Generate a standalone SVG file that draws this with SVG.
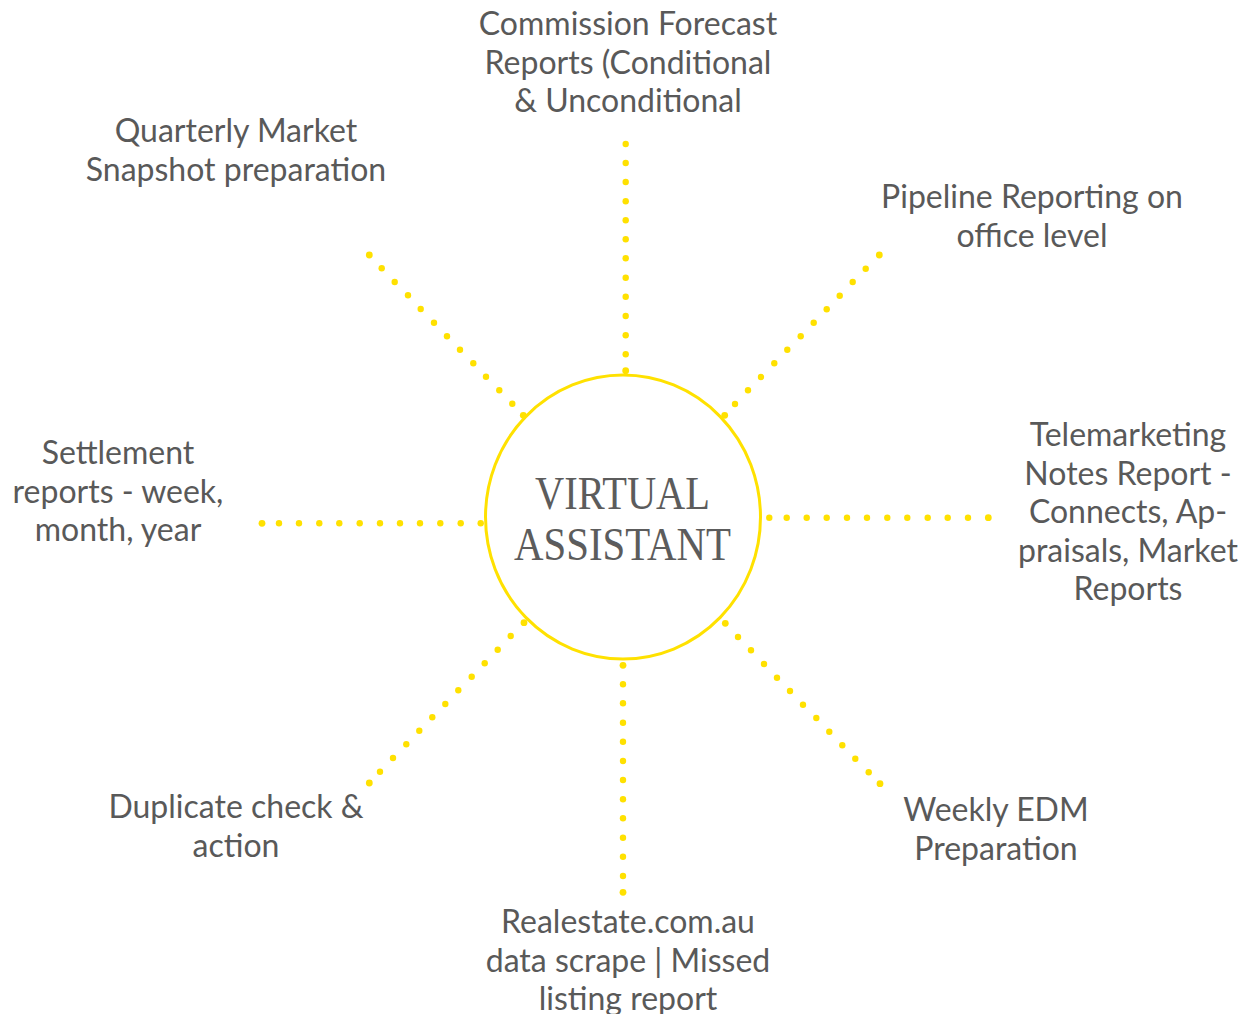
<svg xmlns="http://www.w3.org/2000/svg" width="1252" height="1014" viewBox="0 0 1252 1014">
<style>
.dot{fill:#FFE100}
.lbl{font-family:Lato,"Open Sans","Liberation Sans",sans-serif;font-size:32px;fill:#595959;text-anchor:middle}
.hub{font-family:"Liberation Serif","DejaVu Serif",serif;font-size:47px;fill:#5c5c5c;text-anchor:middle}
</style>
<rect width="1252" height="1014" fill="#ffffff"/>
<g id="connectors">
<g id="c-top"><circle class="dot" cx="625.7" cy="144" r="3.2"/><circle class="dot" cx="625.7" cy="163" r="3.2"/><circle class="dot" cx="625.7" cy="182" r="3.2"/><circle class="dot" cx="625.7" cy="201.3" r="3.2"/><circle class="dot" cx="625.7" cy="220.3" r="3.2"/><circle class="dot" cx="625.7" cy="239.3" r="3.2"/><circle class="dot" cx="625.7" cy="258.3" r="3.2"/><circle class="dot" cx="625.7" cy="277.7" r="3.2"/><circle class="dot" cx="625.7" cy="296.7" r="3.2"/><circle class="dot" cx="625.7" cy="316" r="3.2"/><circle class="dot" cx="625.7" cy="335.3" r="3.2"/><circle class="dot" cx="625.7" cy="354.3" r="3.2"/><circle class="dot" cx="625.7" cy="370.7" r="3.4"/></g>
<g id="c-bottom"><circle class="dot" cx="623" cy="665.3" r="3.4"/><circle class="dot" cx="623" cy="684.3" r="3.2"/><circle class="dot" cx="623" cy="703.3" r="3.2"/><circle class="dot" cx="623" cy="722.7" r="3.2"/><circle class="dot" cx="623" cy="741.7" r="3.2"/><circle class="dot" cx="623" cy="761" r="3.2"/><circle class="dot" cx="623" cy="780" r="3.2"/><circle class="dot" cx="623" cy="799.3" r="3.2"/><circle class="dot" cx="623" cy="818.3" r="3.2"/><circle class="dot" cx="623" cy="837.7" r="3.2"/><circle class="dot" cx="623" cy="856.7" r="3.2"/><circle class="dot" cx="623" cy="876" r="3.2"/><circle class="dot" cx="623" cy="892.3" r="3.4"/></g>
<g id="c-left"><circle class="dot" cx="262" cy="523.3" r="3.4"/><circle class="dot" cx="279" cy="523.3" r="3.2"/><circle class="dot" cx="299" cy="523.3" r="3.2"/><circle class="dot" cx="319.3" cy="523.3" r="3.2"/><circle class="dot" cx="339.3" cy="523.3" r="3.2"/><circle class="dot" cx="359.7" cy="523.3" r="3.2"/><circle class="dot" cx="380" cy="523.3" r="3.2"/><circle class="dot" cx="400" cy="523.3" r="3.2"/><circle class="dot" cx="420" cy="523.3" r="3.2"/><circle class="dot" cx="440.3" cy="523.3" r="3.2"/><circle class="dot" cx="460.7" cy="523.3" r="3.2"/><circle class="dot" cx="480.7" cy="523.3" r="3.2"/></g>
<g id="c-right"><circle class="dot" cx="769.3" cy="517.7" r="3.2"/><circle class="dot" cx="786.7" cy="517.7" r="3.2"/><circle class="dot" cx="806.7" cy="517.7" r="3.2"/><circle class="dot" cx="826.7" cy="517.7" r="3.2"/><circle class="dot" cx="847" cy="517.7" r="3.2"/><circle class="dot" cx="867" cy="517.7" r="3.2"/><circle class="dot" cx="887.3" cy="517.7" r="3.2"/><circle class="dot" cx="907.3" cy="517.7" r="3.2"/><circle class="dot" cx="927.7" cy="517.7" r="3.2"/><circle class="dot" cx="947.7" cy="517.7" r="3.2"/><circle class="dot" cx="968" cy="517.7" r="3.2"/><circle class="dot" cx="988.3" cy="517.7" r="3.4"/></g>
<g id="c-top-left"><circle class="dot" cx="369.3" cy="255" r="3.4"/><circle class="dot" cx="381.7" cy="268.3" r="3.2"/><circle class="dot" cx="394.7" cy="282" r="3.2"/><circle class="dot" cx="408" cy="295.3" r="3.2"/><circle class="dot" cx="420.7" cy="309" r="3.2"/><circle class="dot" cx="434" cy="322.7" r="3.2"/><circle class="dot" cx="447" cy="336.3" r="3.2"/><circle class="dot" cx="460" cy="349.7" r="3.2"/><circle class="dot" cx="473.3" cy="363.3" r="3.2"/><circle class="dot" cx="486" cy="376.7" r="3.2"/><circle class="dot" cx="499.3" cy="390.3" r="3.2"/><circle class="dot" cx="512.3" cy="403.7" r="3.2"/><circle class="dot" cx="523.3" cy="415.3" r="3.4"/></g>
<g id="c-top-right"><circle class="dot" cx="879.3" cy="255" r="3.4"/><circle class="dot" cx="865.7" cy="268.7" r="3.2"/><circle class="dot" cx="852.7" cy="282" r="3.2"/><circle class="dot" cx="839.7" cy="295.7" r="3.2"/><circle class="dot" cx="826.7" cy="309.3" r="3.2"/><circle class="dot" cx="813.7" cy="322.7" r="3.2"/><circle class="dot" cx="800.7" cy="336.3" r="3.2"/><circle class="dot" cx="787.3" cy="349.7" r="3.2"/><circle class="dot" cx="774.3" cy="363.3" r="3.2"/><circle class="dot" cx="761" cy="377" r="3.2"/><circle class="dot" cx="748" cy="390.3" r="3.2"/><circle class="dot" cx="735" cy="404" r="3.2"/><circle class="dot" cx="724.7" cy="415.3" r="3.4"/></g>
<g id="c-bottom-left"><circle class="dot" cx="524" cy="622.7" r="3.4"/><circle class="dot" cx="510.7" cy="636" r="3.2"/><circle class="dot" cx="497.7" cy="649.7" r="3.2"/><circle class="dot" cx="484.7" cy="663.3" r="3.2"/><circle class="dot" cx="471.7" cy="676.7" r="3.2"/><circle class="dot" cx="458.3" cy="690.3" r="3.2"/><circle class="dot" cx="445.3" cy="704" r="3.2"/><circle class="dot" cx="432.3" cy="717.3" r="3.2"/><circle class="dot" cx="419.3" cy="730.7" r="3.2"/><circle class="dot" cx="406.3" cy="744.3" r="3.2"/><circle class="dot" cx="393" cy="758" r="3.2"/><circle class="dot" cx="380" cy="771.7" r="3.2"/><circle class="dot" cx="369.3" cy="783" r="3.4"/></g>
<g id="c-bottom-right"><circle class="dot" cx="725.3" cy="623.3" r="3.4"/><circle class="dot" cx="738" cy="637" r="3.2"/><circle class="dot" cx="751" cy="650.3" r="3.2"/><circle class="dot" cx="764" cy="664" r="3.2"/><circle class="dot" cx="777" cy="677.7" r="3.2"/><circle class="dot" cx="790" cy="691" r="3.2"/><circle class="dot" cx="803" cy="704.7" r="3.2"/><circle class="dot" cx="816.3" cy="718" r="3.2"/><circle class="dot" cx="829.3" cy="731.7" r="3.2"/><circle class="dot" cx="842.3" cy="745.3" r="3.2"/><circle class="dot" cx="855.3" cy="758.7" r="3.2"/><circle class="dot" cx="868.7" cy="772.3" r="3.2"/><circle class="dot" cx="880" cy="783.7" r="3.4"/></g>
</g>
<g id="hub">
<ellipse cx="623" cy="517" rx="137.5" ry="142" fill="#ffffff" stroke="#FFE100" stroke-width="3"/>
<text class="hub" x="622.5" y="509.3" textLength="175" lengthAdjust="spacingAndGlyphs">VIRTUAL</text>
<text class="hub" x="622.5" y="560" textLength="217" lengthAdjust="spacingAndGlyphs">ASSISTANT</text>
</g>
<g id="n-top"><text class="lbl" x="628" y="35">Commission Forecast</text><text class="lbl" x="628" y="73.5">Reports (Conditional</text><text class="lbl" x="628" y="112">&amp; Unconditional</text></g>
<g id="n-top-left"><text class="lbl" x="236" y="142">Quarterly Market</text><text class="lbl" x="236" y="180.5">Snapshot preparation</text></g>
<g id="n-top-right"><text class="lbl" x="1032" y="208">Pipeline Reporting on</text><text class="lbl" x="1032" y="246.5">office level</text></g>
<g id="n-right"><text class="lbl" x="1128" y="446">Telemarketing</text><text class="lbl" x="1128" y="484.5">Notes Report -</text><text class="lbl" x="1128" y="523">Connects, Ap-</text><text class="lbl" x="1128" y="561.5">praisals, Market</text><text class="lbl" x="1128" y="600">Reports</text></g>
<g id="n-left"><text class="lbl" x="118" y="464">Settlement</text><text class="lbl" x="118" y="502.5">reports - week,</text><text class="lbl" x="118" y="541">month, year</text></g>
<g id="n-bottom-left"><text class="lbl" x="236" y="818">Duplicate check &amp;</text><text class="lbl" x="236" y="856.5">action</text></g>
<g id="n-bottom"><text class="lbl" x="628" y="933">Realestate.com.au</text><text class="lbl" x="628" y="971.5">data scrape | Missed</text><text class="lbl" x="628" y="1010">listing report</text></g>
<g id="n-bottom-right"><text class="lbl" x="996" y="821">Weekly EDM</text><text class="lbl" x="996" y="859.5">Preparation</text></g>
</svg>
